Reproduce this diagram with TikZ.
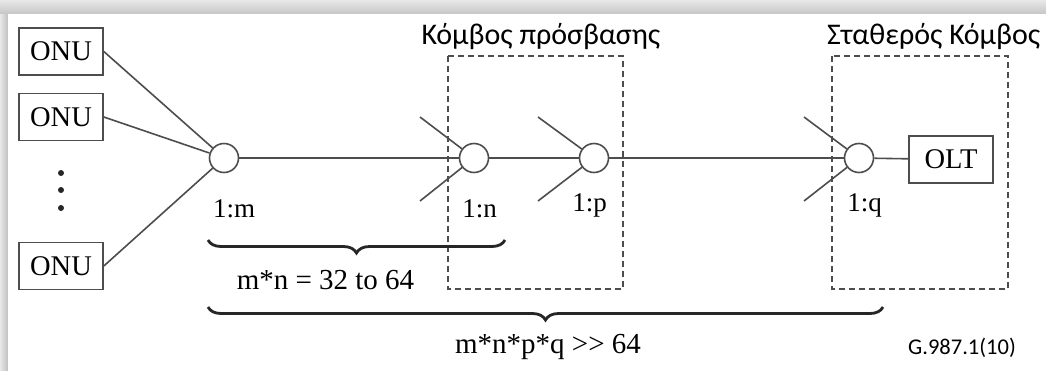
\documentclass[tikz,border=0pt]{standalone}
\usepackage{fontspec}
\setmainfont{Liberation Serif}
\newfontfamily\greekfont{Carlito}
\usetikzlibrary{decorations.pathreplacing}
\definecolor{linegray}{HTML}{4D4D4D}
\begin{document}
\begin{tikzpicture}[x=1pt,y=1pt,
  wire/.style={draw=linegray, line width=1.6pt},
  unitbox/.style={draw=linegray, line width=1.6pt, fill=white, minimum width=84pt, minimum height=47pt, inner sep=0pt, font=\fontsize{28.5}{30}\selectfont},
  splitter/.style={circle, draw=linegray, line width=1.6pt, fill=white, minimum size=29pt, inner sep=0pt},
  ratio/.style={font=\fontsize{27}{30}\selectfont, inner sep=0pt},
  formula/.style={font=\fontsize{29}{31}\selectfont, inner sep=0pt},
  greek/.style={font=\greekfont\fontsize{30}{32}\selectfont, inner sep=0pt},
  regionbox/.style={draw=linegray, line width=1.5pt, dash pattern=on 6pt off 4pt},
  bracepath/.style={decorate, decoration={brace, mirror, amplitude=13pt}, line width=2.8pt, draw=black!85}
]
\useasboundingbox (0,0) rectangle (1046,-370);
% frame shadow
\shade[top color=gray!18, bottom color=gray!45] (0,0) rectangle (1046,-14);
\shade[left color=gray!18, right color=gray!50] (0,-14) rectangle (8,-370);
\fill[white] (8,-14) rectangle (1046,-370);

% dashed regions
\draw[regionbox] (448,-56) rectangle (623,-289);
\draw[regionbox] (832,-56) rectangle (1008,-289);

% region labels
\node[greek] (lblaccess) at (541,-37) {Κόμβος πρόσβασης};
\begin{scope}
  \clip (8,-14) rectangle (1043,-370);
  \node[greek, anchor=west] (lblfixed) at (827,-37) {Σταθερός Κόμβος};
\end{scope}

% ONUs
\node[unitbox] (onu1) at (61,-51.5) {ONU};
\node[unitbox] (onu2) at (61,-117) {ONU};
\node[unitbox] (onu3) at (61,-266) {ONU};
\fill[black!85] (61,-173) circle (3pt) (61,-190) circle (3pt) (61,-208) circle (3pt);

% splitters
\node[splitter] (c1) at (224,-158) {};
\node[splitter] (c2) at (474,-158) {};
\node[splitter] (c3) at (594,-158) {};
\node[splitter] (c4) at (859,-158) {};
\node[unitbox] (olt) at (951,-159.5) {OLT};

% free ends of the extra inputs
\coordinate (n2a) at (420,-117);
\coordinate (n2b) at (420,-201);
\coordinate (n3a) at (538,-117);
\coordinate (n3b) at (538,-201);
\coordinate (n4a) at (804,-117);
\coordinate (n4b) at (804,-201);

% connectors
\draw[wire] (onu1.east) -- (c1);
\draw[wire] (onu2.east) -- (c1);
\draw[wire] (onu3.east) -- (c1);
\draw[wire] (c1) -- (c2);
\draw[wire] (c2) -- (c3);
\draw[wire] (c3) -- (c4);
\draw[wire] (c4) -- (olt);
\draw[wire] (n2a) -- (c2);
\draw[wire] (n2b) -- (c2);
\draw[wire] (n3a) -- (c3);
\draw[wire] (n3b) -- (c3);
\draw[wire] (n4a) -- (c4);
\draw[wire] (n4b) -- (c4);

% ratios
\node[ratio] (rm) at (234,-209) {1:m};
\node[ratio] (rn) at (479.5,-209) {1:n};
\node[ratio] (rp) at (589.5,-205) {1:p};
\node[ratio] (rq) at (864.5,-205) {1:q};

% braces
\coordinate (b1l) at (208,-240);
\coordinate (b1r) at (505,-240);
\coordinate (b2l) at (208,-307);
\coordinate (b2r) at (883,-307);
\draw[bracepath] (b1l) -- (b1r);
\draw[bracepath] (b2l) -- (b2r);
\node[formula] (f1) at (325.5,-280) {m*n = 32 to 64};
\node[formula] (f2) at (548,-347) {m*n*p*q \mbox{>}\mbox{>} 64};

\node[font=\greekfont\fontsize{22.5}{24}\selectfont, inner sep=0pt, anchor=west] (ref) at (908,-348) {G.987.1(10)};
\end{tikzpicture}
\end{document}
